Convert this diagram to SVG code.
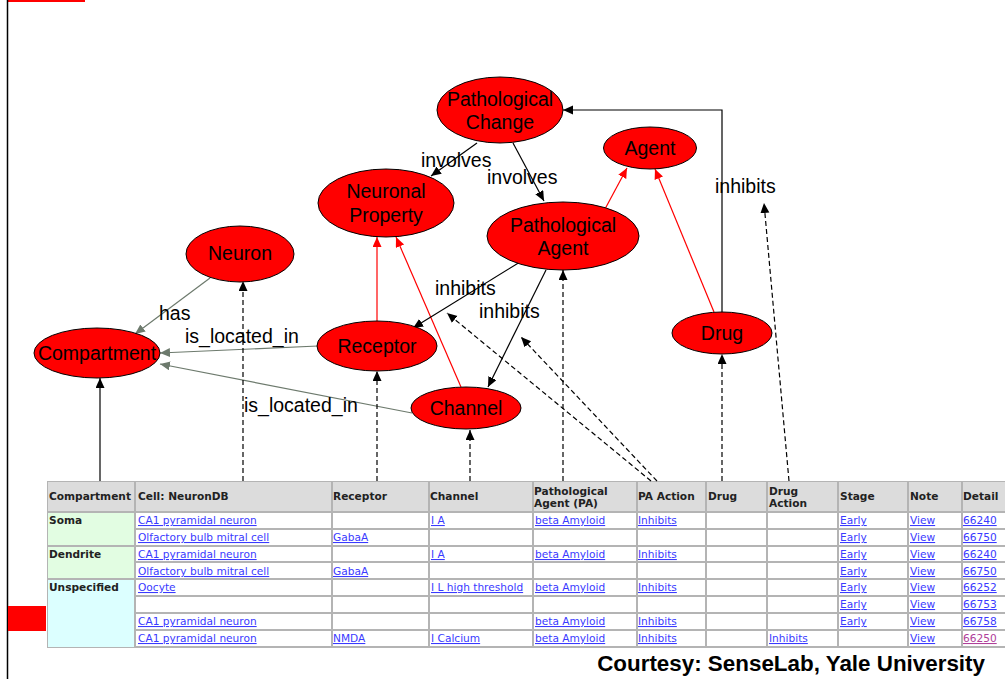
<svg xmlns="http://www.w3.org/2000/svg" width="1005" height="679" viewBox="0 0 1005 679">
<defs>
<style>
.n ellipse{fill:#ff0000;stroke:#000;stroke-width:1}
.n text,.lbl{font-family:"Liberation Sans",Arial,sans-serif;font-size:19.5px;fill:#000}
.n text{text-anchor:middle}
.k{fill:none;stroke:#000;stroke-width:1.2;marker-end:url(#ak)}
.r{fill:none;stroke:#ff0000;stroke-width:1.2;marker-end:url(#ar)}
.g{fill:none;stroke:#6d7a6d;stroke-width:1.2;marker-end:url(#ag)}
.d{fill:none;stroke:#000;stroke-width:1.2;stroke-dasharray:5,3;marker-end:url(#ak)}
.th{font-family:"DejaVu Sans",Verdana,sans-serif;font-size:10.6px;font-weight:bold;fill:#222}
.td{font-family:"DejaVu Sans",Verdana,sans-serif;font-size:10.6px;fill:#3a3aff;text-decoration:underline}
.hc{fill:#dcdcdc}
.wc{fill:#ffffff}
.gc{fill:#e2fde2}
.cc{fill:#dcffff}
</style>
<marker id="ak" markerUnits="userSpaceOnUse" markerWidth="11" markerHeight="10" refX="10" refY="4.5" orient="auto"><path d="M0,0 L10,4.5 L0,9 z" fill="#000"/></marker>
<marker id="ar" markerUnits="userSpaceOnUse" markerWidth="11" markerHeight="10" refX="10" refY="4.5" orient="auto"><path d="M0,0 L10,4.5 L0,9 z" fill="#ff0000"/></marker>
<marker id="ag" markerUnits="userSpaceOnUse" markerWidth="11" markerHeight="10" refX="10" refY="4.5" orient="auto"><path d="M0,0 L10,4.5 L0,9 z" fill="#6d7a6d"/></marker>
</defs>
<rect width="1005" height="679" fill="#fff"/>
<rect x="7" y="0" width="78" height="2" fill="#ff0000"/>
<line x1="7.5" y1="0" x2="7.5" y2="679" stroke="#000" stroke-width="1.5"/>
<rect x="8" y="606" width="38" height="25" fill="#ff0000"/>

<g id="table">
<rect x="47" y="481" width="958" height="167" fill="#b4b4b4"/>
<!-- header -->
<rect class="hc" x="48" y="482" width="86" height="29"/>
<rect class="hc" x="136" y="482" width="195" height="29"/>
<rect class="hc" x="333" y="482" width="95" height="29"/>
<rect class="hc" x="430" y="482" width="102" height="29"/>
<rect class="hc" x="534" y="482" width="102" height="29"/>
<rect class="hc" x="638" y="482" width="67" height="29"/>
<rect class="hc" x="707" y="482" width="59" height="29"/>
<rect class="hc" x="768" y="482" width="69" height="29"/>
<rect class="hc" x="839" y="482" width="68" height="29"/>
<rect class="hc" x="909" y="482" width="52" height="29"/>
<rect class="hc" x="963" y="482" width="42" height="29"/>
<!-- compartment cells -->
<rect class="gc" x="48" y="513" width="86" height="32"/>
<rect class="gc" x="48" y="547" width="86" height="31"/>
<rect class="cc" x="48" y="580" width="86" height="67"/>
<!-- body cells: rows -->
<g class="wc">
<rect x="136" y="513" width="195" height="15"/><rect x="333" y="513" width="95" height="15"/><rect x="430" y="513" width="102" height="15"/><rect x="534" y="513" width="102" height="15"/><rect x="638" y="513" width="67" height="15"/><rect x="707" y="513" width="59" height="15"/><rect x="768" y="513" width="69" height="15"/><rect x="839" y="513" width="68" height="15"/><rect x="909" y="513" width="52" height="15"/><rect x="963" y="513" width="42" height="15"/>
<rect x="136" y="530" width="195" height="15"/><rect x="333" y="530" width="95" height="15"/><rect x="430" y="530" width="102" height="15"/><rect x="534" y="530" width="102" height="15"/><rect x="638" y="530" width="67" height="15"/><rect x="707" y="530" width="59" height="15"/><rect x="768" y="530" width="69" height="15"/><rect x="839" y="530" width="68" height="15"/><rect x="909" y="530" width="52" height="15"/><rect x="963" y="530" width="42" height="15"/>
<rect x="136" y="547" width="195" height="14"/><rect x="333" y="547" width="95" height="14"/><rect x="430" y="547" width="102" height="14"/><rect x="534" y="547" width="102" height="14"/><rect x="638" y="547" width="67" height="14"/><rect x="707" y="547" width="59" height="14"/><rect x="768" y="547" width="69" height="14"/><rect x="839" y="547" width="68" height="14"/><rect x="909" y="547" width="52" height="14"/><rect x="963" y="547" width="42" height="14"/>
<rect x="136" y="563" width="195" height="15"/><rect x="333" y="563" width="95" height="15"/><rect x="430" y="563" width="102" height="15"/><rect x="534" y="563" width="102" height="15"/><rect x="638" y="563" width="67" height="15"/><rect x="707" y="563" width="59" height="15"/><rect x="768" y="563" width="69" height="15"/><rect x="839" y="563" width="68" height="15"/><rect x="909" y="563" width="52" height="15"/><rect x="963" y="563" width="42" height="15"/>
<rect x="136" y="580" width="195" height="15"/><rect x="333" y="580" width="95" height="15"/><rect x="430" y="580" width="102" height="15"/><rect x="534" y="580" width="102" height="15"/><rect x="638" y="580" width="67" height="15"/><rect x="707" y="580" width="59" height="15"/><rect x="768" y="580" width="69" height="15"/><rect x="839" y="580" width="68" height="15"/><rect x="909" y="580" width="52" height="15"/><rect x="963" y="580" width="42" height="15"/>
<rect x="136" y="597" width="195" height="15"/><rect x="333" y="597" width="95" height="15"/><rect x="430" y="597" width="102" height="15"/><rect x="534" y="597" width="102" height="15"/><rect x="638" y="597" width="67" height="15"/><rect x="707" y="597" width="59" height="15"/><rect x="768" y="597" width="69" height="15"/><rect x="839" y="597" width="68" height="15"/><rect x="909" y="597" width="52" height="15"/><rect x="963" y="597" width="42" height="15"/>
<rect x="136" y="614" width="195" height="15"/><rect x="333" y="614" width="95" height="15"/><rect x="430" y="614" width="102" height="15"/><rect x="534" y="614" width="102" height="15"/><rect x="638" y="614" width="67" height="15"/><rect x="707" y="614" width="59" height="15"/><rect x="768" y="614" width="69" height="15"/><rect x="839" y="614" width="68" height="15"/><rect x="909" y="614" width="52" height="15"/><rect x="963" y="614" width="42" height="15"/>
<rect x="136" y="631" width="195" height="15"/><rect x="333" y="631" width="95" height="15"/><rect x="430" y="631" width="102" height="15"/><rect x="534" y="631" width="102" height="15"/><rect x="638" y="631" width="67" height="15"/><rect x="707" y="631" width="59" height="15"/><rect x="768" y="631" width="69" height="15"/><rect x="839" y="631" width="68" height="15"/><rect x="909" y="631" width="52" height="15"/><rect x="963" y="631" width="42" height="15"/>
</g>
<!-- header text -->
<text class="th" x="49" y="500">Compartment</text>
<text class="th" x="138" y="500">Cell: NeuronDB</text>
<text class="th" x="333" y="500">Receptor</text>
<text class="th" x="430" y="500">Channel</text>
<text class="th" x="534" y="495">Pathological</text>
<text class="th" x="534" y="507">Agent (PA)</text>
<text class="th" x="638" y="500">PA Action</text>
<text class="th" x="708" y="500">Drug</text>
<text class="th" x="769" y="495">Drug</text>
<text class="th" x="769" y="507">Action</text>
<text class="th" x="840" y="500">Stage</text>
<text class="th" x="910" y="500">Note</text>
<text class="th" x="963" y="500">Detail</text>
<!-- compartment labels -->
<text class="th" x="49" y="524">Soma</text>
<text class="th" x="49" y="558">Dendrite</text>
<text class="th" x="49" y="591">Unspecified</text>
<!-- row 1 -->
<text class="td" x="138" y="524">CA1 pyramidal neuron</text>
<text class="td" x="431" y="524">I A</text>
<text class="td" x="535" y="524">beta Amyloid</text>
<text class="td" x="638" y="524">Inhibits</text>
<text class="td" x="840" y="524">Early</text>
<text class="td" x="910" y="524">View</text>
<text class="td" x="963" y="524">66240</text>
<!-- row 2 -->
<text class="td" x="138" y="541">Olfactory bulb mitral cell</text>
<text class="td" x="333" y="541">GabaA</text>
<text class="td" x="840" y="541">Early</text>
<text class="td" x="910" y="541">View</text>
<text class="td" x="963" y="541">66750</text>
<!-- row 3 -->
<text class="td" x="138" y="558">CA1 pyramidal neuron</text>
<text class="td" x="431" y="558">I A</text>
<text class="td" x="535" y="558">beta Amyloid</text>
<text class="td" x="638" y="558">Inhibits</text>
<text class="td" x="840" y="558">Early</text>
<text class="td" x="910" y="558">View</text>
<text class="td" x="963" y="558">66240</text>
<!-- row 4 -->
<text class="td" x="138" y="575">Olfactory bulb mitral cell</text>
<text class="td" x="333" y="575">GabaA</text>
<text class="td" x="840" y="575">Early</text>
<text class="td" x="910" y="575">View</text>
<text class="td" x="963" y="575">66750</text>
<!-- row 5 -->
<text class="td" x="138" y="591">Oocyte</text>
<text class="td" x="431" y="591">I L high threshold</text>
<text class="td" x="535" y="591">beta Amyloid</text>
<text class="td" x="638" y="591">Inhibits</text>
<text class="td" x="840" y="591">Early</text>
<text class="td" x="910" y="591">View</text>
<text class="td" x="963" y="591">66252</text>
<!-- row 6 -->
<text class="td" x="840" y="608">Early</text>
<text class="td" x="910" y="608">View</text>
<text class="td" x="963" y="608">66753</text>
<!-- row 7 -->
<text class="td" x="138" y="625">CA1 pyramidal neuron</text>
<text class="td" x="535" y="625">beta Amyloid</text>
<text class="td" x="638" y="625">Inhibits</text>
<text class="td" x="840" y="625">Early</text>
<text class="td" x="910" y="625">View</text>
<text class="td" x="963" y="625">66758</text>
<!-- row 8 -->
<text class="td" x="138" y="642">CA1 pyramidal neuron</text>
<text class="td" x="333" y="642">NMDA</text>
<text class="td" x="431" y="642">I Calcium</text>
<text class="td" x="535" y="642">beta Amyloid</text>
<text class="td" x="638" y="642">Inhibits</text>
<text class="td" x="769" y="642">Inhibits</text>
<text class="td" x="910" y="642">View</text>
<text class="td" x="963" y="642" style="fill:#b0409a">66250</text>
</g>

<g id="connectors">
<path class="k" d="M477,143 L431,176"/>
<path class="k" d="M513,143 L544,201"/>
<path class="r" d="M605,209 L627,168"/>
<path class="r" d="M714,312 L655,169"/>
<path class="k" d="M722,312 L722,110 L563,110"/>
<path class="r" d="M377,321 L377,237"/>
<path class="r" d="M461,387 L396,237"/>
<path class="k" d="M520,262 L413,328"/>
<path class="k" d="M546,270 L488,387"/>
<path class="g" d="M210,278 L135,334"/>
<path class="g" d="M318,346 L160,353"/>
<path class="g" d="M412,413 L160,364"/>
<path class="k" d="M100,481 L100,378"/>
<path class="d" d="M243,481 L243,281"/>
<path class="d" d="M377,481 L377,371"/>
<path class="d" d="M470,481 L470,430"/>
<path class="d" d="M563,481 L563,270"/>
<path class="d" d="M651,481 L447,313"/>
<path class="d" d="M657,481 L521,337"/>
<path class="d" d="M722,481 L722,354"/>
<path class="d" d="M789,481 L764,203"/>
<text class="lbl" x="421" y="167">involves</text>
<text class="lbl" x="487" y="184">involves</text>
<text class="lbl" x="715" y="193">inhibits</text>
<text class="lbl" x="435" y="295">inhibits</text>
<text class="lbl" x="479" y="318">inhibits</text>
<text class="lbl" x="159" y="320">has</text>
<text class="lbl" x="185" y="343">is_located_in</text>
<text class="lbl" x="244" y="412">is_located_in</text>
</g>

<g id="pathological-change" class="n"><ellipse cx="500" cy="110" rx="63" ry="33"/><text x="500" y="106">Pathological</text><text x="500" y="129">Change</text></g>
<g id="agent" class="n"><ellipse cx="650" cy="148" rx="46.5" ry="21"/><text x="650" y="155">Agent</text></g>
<g id="neuronal-property" class="n"><ellipse cx="386" cy="203" rx="68" ry="34"/><text x="386" y="198">Neuronal</text><text x="386" y="222">Property</text></g>
<g id="pathological-agent" class="n"><ellipse cx="563" cy="236" rx="76" ry="34"/><text x="563" y="232">Pathological</text><text x="563" y="255">Agent</text></g>
<g id="neuron" class="n"><ellipse cx="240" cy="254" rx="54" ry="28"/><text x="240" y="260">Neuron</text></g>
<g id="compartment" class="n"><ellipse cx="97" cy="353" rx="63" ry="25"/><text x="97" y="360">Compartment</text></g>
<g id="receptor" class="n"><ellipse cx="377" cy="346" rx="60" ry="25"/><text x="377" y="353">Receptor</text></g>
<g id="channel" class="n"><ellipse cx="466" cy="408" rx="55" ry="21"/><text x="466" y="415">Channel</text></g>
<g id="drug" class="n"><ellipse cx="722" cy="333" rx="50" ry="21"/><text x="722" y="340">Drug</text></g>

<text x="985" y="671" text-anchor="end" font-family="Liberation Sans, Arial, sans-serif" font-size="22.4" font-weight="bold" fill="#000">Courtesy: SenseLab, Yale University</text>
</svg>
